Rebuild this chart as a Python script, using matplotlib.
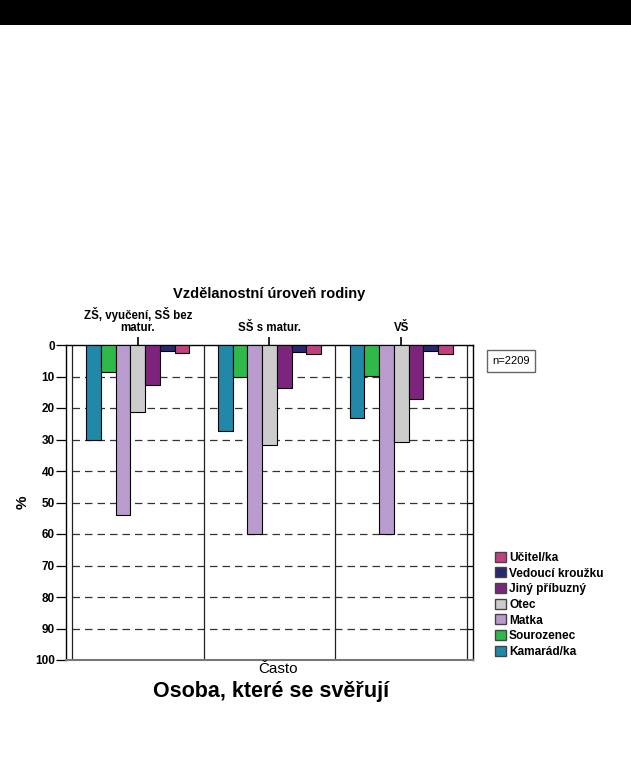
import numpy as np
import matplotlib
matplotlib.use("Agg")
import matplotlib.pyplot as plt
from matplotlib.patches import Rectangle, Patch

plt.rcParams["font.family"] = ["Liberation Sans", "DejaVu Sans"]

# data (percent)
groups = ["ZŠ, vyučení, SŠ bez\nmatur.", "SŠ s matur.", "VŠ"]
persons = ["Kamarád/ka", "Sourozenec", "Matka", "Otec",
           "Jiný příbuzný", "Vedoucí kroužku", "Učitel/ka"]
kamarad = [30.0, 27.4, 23.1]
sourozenec = [8.5, 10.0, 9.8]
matka = [54.0, 60.0, 60.0]
otec = [21.2, 31.6, 30.9]
jiny = [12.8, 13.5, 17.1]
vedouci = [1.8, 2.2, 1.9]
ucitel = [2.4, 2.9, 2.8]
colors = ["#2188A8", "#2FB94A", "#B99BCD", "#CCCCCC",
          "#7D257D", "#28286E", "#C04080"]
yticks = [0, 10, 20, 30, 40, 50, 60, 70, 80, 90, 100]

series = [kamarad, sourozenec, matka, otec, jiny, vedouci, ucitel]

fig = plt.figure(figsize=(6.31, 7.63), dpi=100, facecolor="white")

# black band on top
fig.patches.append(Rectangle((0, 0.967), 1, 0.033, transform=fig.transFigure,
                             facecolor="black", edgecolor="none"))

ax = fig.add_axes([66 / 631, 103 / 763, 407 / 631, 315 / 763])
x = np.arange(len(groups))
w = 0.112
for i, (vals, c) in enumerate(zip(series, colors)):
    ax.bar(x + (i - 3) * w, vals, w, color=c, edgecolor="black",
           linewidth=0.8, zorder=3)

pad = 6 / 131.3
ax.set_xlim(-0.5 - pad, 2.5 + pad)
ax.set_ylim(100, 0)

for yv in yticks[1:-1]:
    ax.plot([-0.5, 2.5], [yv, yv], color="#333333", lw=0.9,
            ls=(0, (6, 4)), zorder=1)
# short solid marks between the inner and outer right frame lines
ax.hlines(yticks, 2.5, 2.5 + pad, color="black", lw=0.9, zorder=2)
for xv in [-0.5, 0.5, 1.5, 2.5]:
    ax.axvline(xv, color="#222222", lw=0.9, zorder=2)

ax.set_yticks(yticks)
ax.set_yticklabels([str(v) for v in yticks], fontsize=8.5, fontweight="bold")
ax.tick_params(axis="y", length=7, width=0.9, pad=1)
ax.xaxis.tick_top()
ax.set_xticks(x)
ax.set_xticklabels(groups, fontsize=8.3, fontweight="bold", linespacing=0.95)
ax.tick_params(axis="x", length=6, width=1.2, pad=2)
ax.xaxis.set_label_position("top")
ax.set_xlabel("Vzdělanostní úroveň rodiny", fontsize=10.5, fontweight="bold",
              labelpad=7)
ax.set_ylabel("%", fontsize=11, fontweight="bold")
ax.yaxis.set_label_coords(-36 / 407, 0.5)
for s in ax.spines.values():
    s.set_linewidth(1.0)
ax.spines["bottom"].set_color("#777777")
ax.spines["bottom"].set_linewidth(1.5)

# n box
fig.text(511 / 631, 1 - 361 / 763, "n=2209", fontsize=8, ha="center", va="center",
         bbox=dict(boxstyle="square,pad=0.5", facecolor="white",
                   edgecolor="#666666", linewidth=1.0))

# legend (order as shown)
handles = [Patch(facecolor=c, edgecolor="#444444", label=p)
           for p, c in zip(persons, colors)][::-1]
fig.legend(handles=handles, loc="upper left", bbox_to_anchor=(490 / 631, 1 - 547 / 763),
           frameon=False, prop={"weight": "bold", "size": 8.6},
           handlelength=0.9, handleheight=0.9, handletextpad=0.3,
           labelspacing=0.3, borderaxespad=0)

fig.text(278 / 631, 1 - 669 / 763, "Často", fontsize=11, ha="center", va="center")
fig.text(271 / 631, 1 - 692 / 763, "Osoba, které se svěřují", fontsize=15.5,
         fontweight="bold", ha="center", va="center")

fig.savefig("out.png", dpi=100)
